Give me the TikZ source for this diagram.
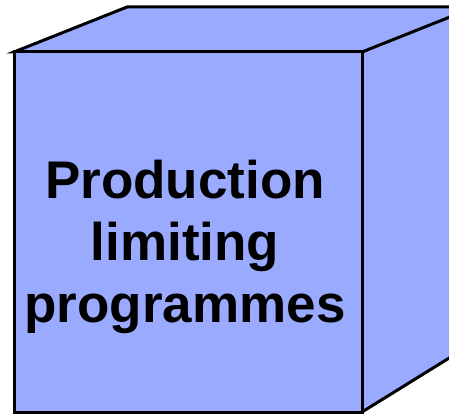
\documentclass[tikz,border=0pt]{standalone}
\usepackage{fontspec}
\setmainfont{Liberation Sans}
\definecolor{cubeblue}{RGB}{153,170,255}
\begin{document}
\begin{tikzpicture}[x=1pt,y=-1pt,
  face/.style={fill=cubeblue,draw=black,line width=3pt,line join=miter},
  label/.style={align=center,font=\fontsize{53}{62}\selectfont\bfseries,inner sep=0pt}]
\useasboundingbox (0,0) rectangle (449,414);
\clip (0,0) rectangle (449,414);
% right face
\draw[face] (362,52) -- (475,0) -- (475,342) -- (362,412) -- cycle;
% top face
\draw[face] (14,52) -- (127,7) -- (475,7) -- (362,52) -- cycle;
% front face
\draw[face] (14,52) rectangle (362,412);
\node[label] (t) at (185,247) {Production\\limiting\\programmes};
\end{tikzpicture}
\end{document}
